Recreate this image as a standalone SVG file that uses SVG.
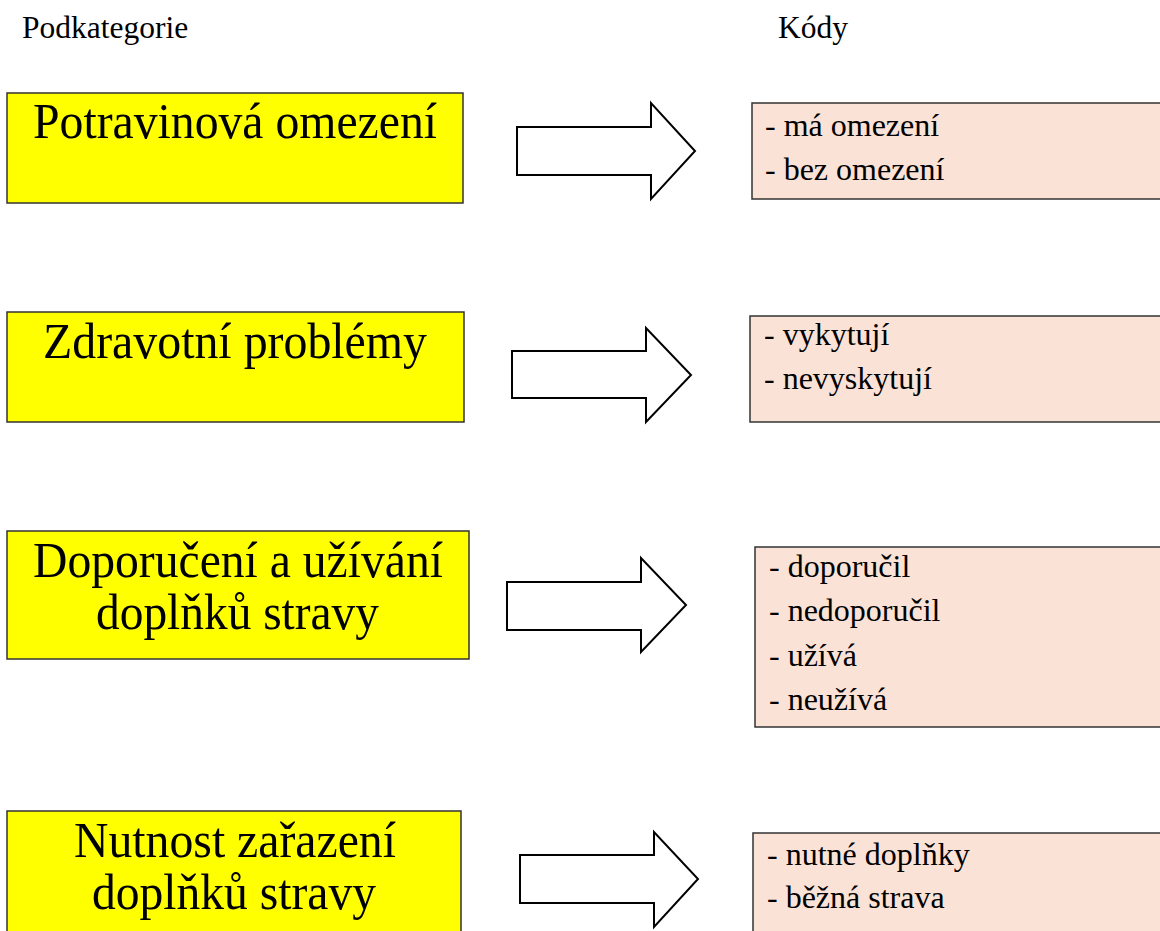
<svg xmlns="http://www.w3.org/2000/svg" width="1160" height="931" viewBox="0 0 1160 931">
<style>
.cat{fill:#FFFF00;stroke:#333;stroke-width:1.5}
.code{fill:#FBE2D6;stroke:#333;stroke-width:1.5}
.arr{fill:#fff;stroke:#000;stroke-width:2;stroke-linejoin:miter}
.ct{font-family:"Liberation Serif","Times New Roman",serif;font-size:51px;fill:#000}
.kt{font-family:"Liberation Serif","Times New Roman",serif;font-size:32px;fill:#000}
.ht{font-family:"Liberation Serif","Times New Roman",serif;font-size:31.5px;fill:#000}
</style>
<rect width="1160" height="931" fill="#fff"/>
<g id="headers">
<text class="ht" x="22" y="38">Podkategorie</text>
<text class="ht" x="778" y="38">Kódy</text>
</g>
<g id="cat1">
<rect class="cat" x="7" y="93" width="456" height="110"/>
<text class="ct" x="33" y="138" textLength="404" lengthAdjust="spacingAndGlyphs">Potravinová omezení</text>
</g>
<g id="cat2">
<rect class="cat" x="7" y="312" width="457" height="110"/>
<text class="ct" x="43" y="358" textLength="384" lengthAdjust="spacingAndGlyphs">Zdravotní problémy</text>
</g>
<g id="cat3">
<rect class="cat" x="7" y="531" width="462" height="128"/>
<text class="ct" x="33" y="577" textLength="410" lengthAdjust="spacingAndGlyphs">Doporučení a užívání</text>
<text class="ct" x="96" y="629" textLength="283" lengthAdjust="spacingAndGlyphs">doplňků stravy</text>
</g>
<g id="cat4">
<rect class="cat" x="7" y="811" width="454" height="130"/>
<text class="ct" x="74" y="857" textLength="322" lengthAdjust="spacingAndGlyphs">Nutnost zařazení</text>
<text class="ct" x="92" y="909" textLength="284" lengthAdjust="spacingAndGlyphs">doplňků stravy</text>
</g>
<g id="connectors">
<polygon class="arr" points="517,127 651,127 651,103 695,151 651,199 651,175 517,175"/>
<polygon class="arr" points="512,351 646,351 646,328 691,375 646,422 646,398 512,398"/>
<polygon class="arr" points="507,582 641,582 641,558 686,605 641,652 641,630 507,630"/>
<polygon class="arr" points="520,855 654,855 654,832 698,879 654,927 654,903 520,903"/>
</g>
<g id="codes1">
<rect class="code" x="752" y="103" width="420" height="96"/>
<text class="kt" x="765" y="136">- má omezení</text>
<text class="kt" x="765" y="180">- bez omezení</text>
</g>
<g id="codes2">
<rect class="code" x="750" y="316" width="420" height="106"/>
<text class="kt" x="764" y="345">- vykytují</text>
<text class="kt" x="764" y="389">- nevyskytují</text>
</g>
<g id="codes3">
<rect class="code" x="755" y="547" width="420" height="180"/>
<text class="kt" x="769" y="577">- doporučil</text>
<text class="kt" x="769" y="621">- nedoporučil</text>
<text class="kt" x="769" y="666">- užívá</text>
<text class="kt" x="769" y="710">- neužívá</text>
</g>
<g id="codes4">
<rect class="code" x="753" y="833" width="420" height="120"/>
<text class="kt" x="767" y="865">- nutné doplňky</text>
<text class="kt" x="767" y="908">- běžná strava</text>
</g>
</svg>
